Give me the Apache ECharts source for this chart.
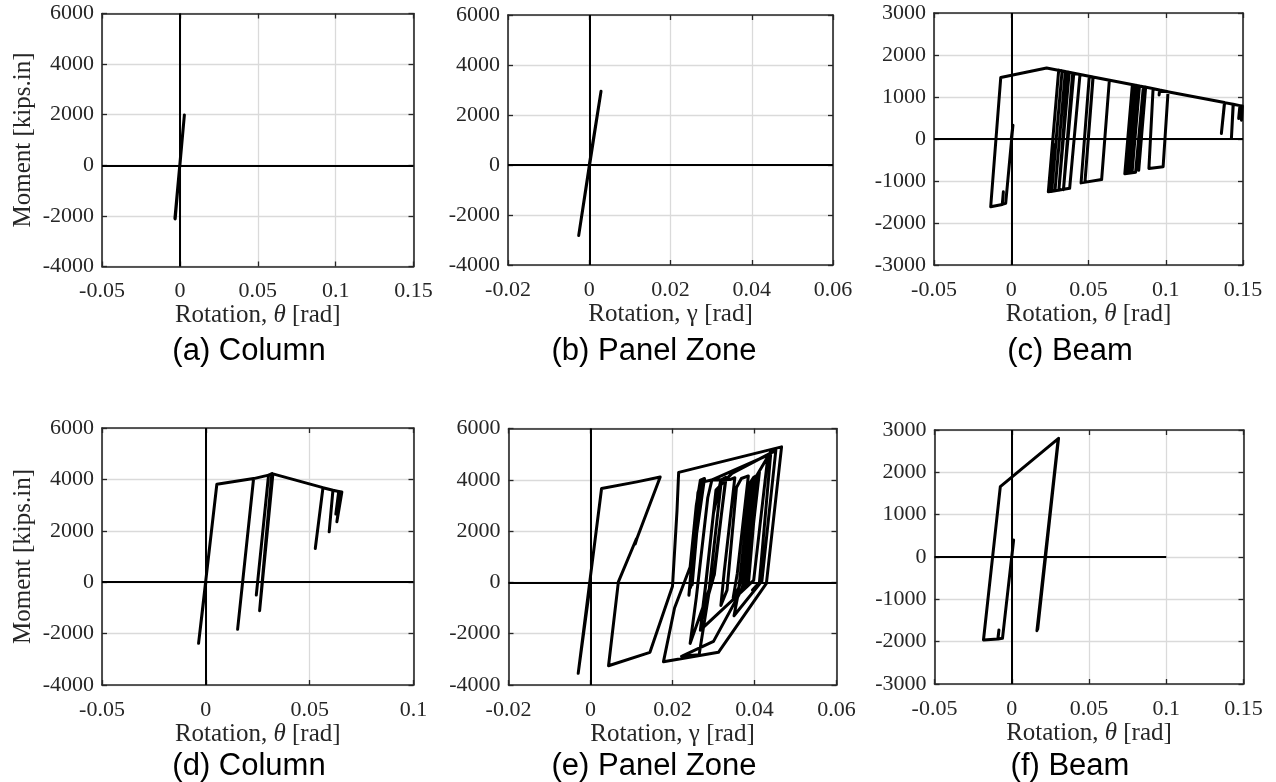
<!DOCTYPE html>
<html>
<head>
<meta charset="utf-8">
<title>Moment-rotation response</title>
<script src="https://cdn.jsdelivr.net/npm/echarts@6/dist/echarts.min.js"></script>
<style>
  html, body { margin: 0; padding: 0; background: #ffffff; }
  #chart { width: 1276px; height: 782px; }
</style>
</head>
<body>
<div id="chart"></div>
<script>
// ---- Tick labels ----
const rotTicksWide = [-0.05, 0, 0.05, 0.1, 0.15];
const rotTicksCol = [-0.05, 0, 0.05, 0.1];
const rotTicksPZ = [-0.02, 0, 0.02, 0.04, 0.06];
const momTicksBig = [-4000, -2000, 0, 2000, 4000, 6000];
const momTicksBeam = [-3000, -2000, -1000, 0, 1000, 2000, 3000];

// ---- Hysteresis histories: [rotation (rad), moment (kips.in)] ----
const colA = [
  [0, 0], [0.0029, 1990], [-0.0032, -2100], [-0.0026, -1750], [-0.0030, -2120], [0.0005, 400]
];
const pzB = [
  [0, 0], [0.0029, 2950], [-0.0026, -2820], [0.0005, 500]
];
const beamC = [
  [0, 0], [0.0011, 330], [-0.0036, -1533],
  [-0.0058, -1555], [-0.0051, -1257], [-0.0058, -1560],
  [-0.0133, -1613], [-0.0068, 1463], [0.0229, 1692],
  [0.0445, 1537], [0.0378, -1175], [0.0256, -1250], [0.0282, -130], [0.0254, -1252], [0.0240, -1257], [0.0307, 1636],
  [0.0350, 1605], [0.0283, -1235], [0.0262, -1247], [0.0329, 1622],
  [0.0375, 1588], [0.0308, -1222], [0.0300, -1226], [0.0367, 1594],
  [0.0405, 1566], [0.0338, -1207], [0.0330, -1212], [0.0397, 1571],
  [0.0635, 1401], [0.0585, -965], [0.0452, -1045], [0.0505, 1494],
  [0.0530, 1476], [0.0477, -1030], [0.0529, 1477],
  [0.0855, 1243], [0.0805, -790], [0.0735, -830], [0.0784, 1294],
  [0.0800, 1283], [0.0752, -820], [0.0745, -825], [0.0793, 1288],
  [0.0815, 1273], [0.0766, -812], [0.0758, -818], [0.0806, 1280],
  [0.0830, 1261], [0.0782, -800], [0.0776, -805], [0.0822, 1267],
  [0.0870, 1233], [0.0825, -745], [0.0820, -750], [0.0866, 1236],
  [0.1015, 1128], [0.0983, -661], [0.0891, -701], [0.0918, 1198],
  [0.0960, 1165], [0.0957, 1050], [0.0961, 1163],
  [0.1380, 867], [0.1360, 131], [0.1381, 866],
  [0.1436, 827], [0.1425, 13], [0.1437, 826],
  [0.1480, 795], [0.1472, 488], [0.1481, 794],
  [0.1496, 784], [0.1490, 448]
];
const colD = [
  [0, 0], [-0.0035, -2380], [0.0053, 3813], [0.0230, 4034], [0.0153, -1835], [0.0230, 4030],
  [0.0302, 4166], [0.0243, -500], [0.0302, 4160], [0.0318, 4228], [0.0323, 4220], [0.0259, -1110], [0.0323, 4215],
  [0.0564, 3680], [0.0527, 1313], [0.0564, 3675],
  [0.0612, 3580], [0.0594, 1960], [0.0612, 3575],
  [0.0640, 3530], [0.0626, 2650], [0.0641, 3528],
  [0.0655, 3514], [0.0631, 2349], [0.0650, 3450]
];
const pzE = [
  [0, 0], [-0.0030, -3545], [0.0027, 3662], [0.0113, 3920], [0.0170, 4110],
  [0.0113, 1700], [0.0109, 1500], [0.0112, 1700], [0.0068, 20], [0.0044, -3248], [0.0145, -2727],
  [0.0200, -150], [0.0211, 2800], [0.0215, 4290],
  [0.0466, 5283],
  [0.0429, -40], [0.0312, -2727], [0.0178, -3090],
  [0.0205, -1000], [0.0243, 600], [0.0258, 3000], [0.0268, 3990], [0.0278, 4050],
  [0.0250, 900], [0.0240, -500], [0.0262, 3500], [0.0272, 4000],
  [0.0244, -200], [0.0266, 3300], [0.0248, -100], [0.0270, 3900],
  [0.0295, 3990], [0.0433, 4960],
  [0.0398, 80], [0.0268, -1860], [0.0281, -100], [0.0300, 2700], [0.0318, 3990], [0.0330, 4100],
  [0.0302, 300], [0.0243, -2380], [0.0258, -600], [0.0286, 3300], [0.0296, 3990],
  [0.0340, 4010], [0.0352, 4080], [0.0326, 400], [0.0318, -900], [0.0333, -300], [0.0356, 3700], [0.0368, 4050],
  [0.0385, 4150], [0.0358, 350], [0.0348, -600], [0.0362, -200], [0.0390, 3900], [0.0398, 4100],
  [0.0410, 4200], [0.0380, 0], [0.0372, -250], [0.0385, -100], [0.0403, 3300], [0.0388, 800], [0.0380, -150], [0.0396, 3800], [0.0405, 4150],
  [0.0376, 300], [0.0370, -300], [0.0392, 3500], [0.0378, 600], [0.0374, -100], [0.0398, 3900],
  [0.0412, 4300], [0.0382, 100], [0.0300, -2300], [0.0222, -2880], [0.0265, -2820], [0.0288, -500], [0.0318, 3800], [0.0330, 4000],
  [0.0300, 200], [0.0270, -1500], [0.0280, -200], [0.0306, 3600], [0.0345, 4250],
  [0.0452, 5150], [0.0418, 50], [0.0350, -1300], [0.0362, -300], [0.0392, 3600], [0.0403, 4100], [0.0440, 5100],
  [0.0412, 0], [0.0395, -300]
];
const beamF = [
  [0, 0], [0.0012, 400], [-0.0060, -1921],
  [-0.0089, -1935], [-0.0083, -1724], [-0.0090, -1938],
  [-0.0183, -1960], [-0.0074, 1661], [0.0303, 2804],
  [0.0165, -1724], [0.0302, 2790], [0.0168, -1700], [0.0300, 2770], [0.0163, -1740]
];
// the zero-moment reference line of panel (f) stops at this rotation
const beamFZeroLineEnd = 0.1;

const panelTitles = ['(a) Column', '(b) Panel Zone', '(c) Beam', '(d) Column', '(e) Panel Zone', '(f) Beam'];

// ---- Layout of the six axes boxes (pixels) ----
const boxes = [
  { left: 102, top: 13.5, width: 311.5, height: 253 },
  { left: 508, top: 15, width: 325, height: 250 },
  { left: 934, top: 13, width: 309, height: 252 },
  { left: 102, top: 428, width: 311.5, height: 257 },
  { left: 508.5, top: 428.5, width: 328, height: 256.5 },
  { left: 934.5, top: 430, width: 309, height: 254 }
];
// caption anchors (centre x, top y)
const captionPos = [
  [244, 331], [649, 331], [1065, 331],
  [244, 746], [649, 746], [1065, 746]
];

const panels = [
  { data: colA, xt: rotTicksWide, yt: momTicksBig, sym: 'θ', italic: true, ylab: true },
  { data: pzB, xt: rotTicksPZ, yt: momTicksBig, sym: 'γ', italic: false, ylab: false },
  { data: beamC, xt: rotTicksWide, yt: momTicksBeam, sym: 'θ', italic: true, ylab: false },
  { data: colD, xt: rotTicksCol, yt: momTicksBig, sym: 'θ', italic: true, ylab: true },
  { data: pzE, xt: rotTicksPZ, yt: momTicksBig, sym: 'γ', italic: false, ylab: false },
  { data: beamF, xt: rotTicksWide, yt: momTicksBeam, sym: 'θ', italic: true, ylab: false, zeroEnd: beamFZeroLineEnd }
];

const SERIF = 'Liberation Serif, Times New Roman, serif';
const SANS = 'Liberation Sans, Arial, sans-serif';
const FRAME = '#262626';
const TICK_FS = 22;
const LABEL_FS = 25;

function fmt(v) { return String(parseFloat(Number(v).toPrecision(8))); }

const grid = [], xAxis = [], yAxis = [], series = [], title = [];

panels.forEach((p, i) => {
  const b = boxes[i];
  grid.push({ left: b.left, top: b.top, width: b.width, height: b.height, containLabel: false });
  const xmin = p.xt[0], xmax = p.xt[p.xt.length - 1], xint = p.xt[1] - p.xt[0];
  const ymin = p.yt[0], ymax = p.yt[p.yt.length - 1], yint = p.yt[1] - p.yt[0];
  const lineCommon = { show: true, onZero: false, lineStyle: { color: FRAME, width: 1.6 } };
  const tickCommon = { show: true, inside: true, length: 5, lineStyle: { color: FRAME, width: 1.3 } };
  // bottom axis with labels and name
  xAxis.push({
    type: 'value', gridIndex: i, position: 'bottom', min: xmin, max: xmax, interval: xint,
    axisLine: lineCommon, axisTick: tickCommon,
    axisLabel: { show: true, margin: 14, formatter: fmt, fontFamily: SERIF, fontSize: TICK_FS, color: FRAME },
    splitLine: { show: true, lineStyle: { color: '#dadada', width: 1.3 } },
    name: '{t|Rotation, }{g|' + p.sym + '}{t| [rad]}',
    nameLocation: 'middle', nameGap: 35,
    nameTextStyle: {
      color: FRAME, fontFamily: SERIF, fontSize: LABEL_FS,
      rich: {
        t: { fontFamily: SERIF, fontSize: LABEL_FS, color: FRAME },
        g: { fontFamily: SERIF, fontSize: LABEL_FS, color: FRAME, fontStyle: p.italic ? 'italic' : 'normal' }
      }
    }
  });
  // top axis: frame edge and inward ticks
  xAxis.push({
    type: 'value', gridIndex: i, position: 'top', min: xmin, max: xmax, interval: xint,
    axisLine: lineCommon, axisTick: tickCommon, axisLabel: { show: false }, splitLine: { show: false }
  });
  yAxis.push({
    type: 'value', gridIndex: i, position: 'left', min: ymin, max: ymax, interval: yint,
    axisLine: lineCommon, axisTick: tickCommon,
    axisLabel: { show: true, margin: 8, formatter: fmt, fontFamily: SERIF, fontSize: TICK_FS, color: FRAME },
    splitLine: { show: true, lineStyle: { color: '#dadada', width: 1.3 } },
    name: p.ylab ? 'Moment [kips.in]' : '',
    nameLocation: 'middle', nameGap: 66, nameRotate: 90,
    nameTextStyle: { color: FRAME, fontFamily: SERIF, fontSize: LABEL_FS }
  });
  yAxis.push({
    type: 'value', gridIndex: i, position: 'right', min: ymin, max: ymax, interval: yint,
    axisLine: lineCommon, axisTick: tickCommon, axisLabel: { show: false }, splitLine: { show: false }
  });

  const refLines = [{ xAxis: 0 }];
  if (p.zeroEnd !== undefined) {
    refLines.push([{ coord: [xmin, 0] }, { coord: [p.zeroEnd, 0] }]);
  } else {
    refLines.push({ yAxis: 0 });
  }

  series.push({
    type: 'line', xAxisIndex: 2 * i, yAxisIndex: 2 * i,
    data: p.data, showSymbol: false, symbol: 'none', clip: true,
    lineStyle: { color: '#000000', width: 3, join: 'round', cap: 'round' },
    markLine: {
      silent: true, symbol: ['none', 'none'], label: { show: false },
      lineStyle: { color: '#000000', width: 2, type: 'solid' },
      emphasis: { disabled: true },
      data: refLines
    },
    z: 3
  });

  title.push({
    text: panelTitles[i],
    left: captionPos[i][0],
    top: captionPos[i][1],
    textAlign: 'center',
    textStyle: { fontFamily: SANS, fontSize: 31, fontWeight: 'normal', color: '#000000' }
  });
});

const chart = echarts.init(document.getElementById('chart'), null, { renderer: 'canvas' });
chart.setOption({
  animation: false,
  backgroundColor: '#ffffff',
  title, grid, xAxis, yAxis, series
});
</script>
</body>
</html>
